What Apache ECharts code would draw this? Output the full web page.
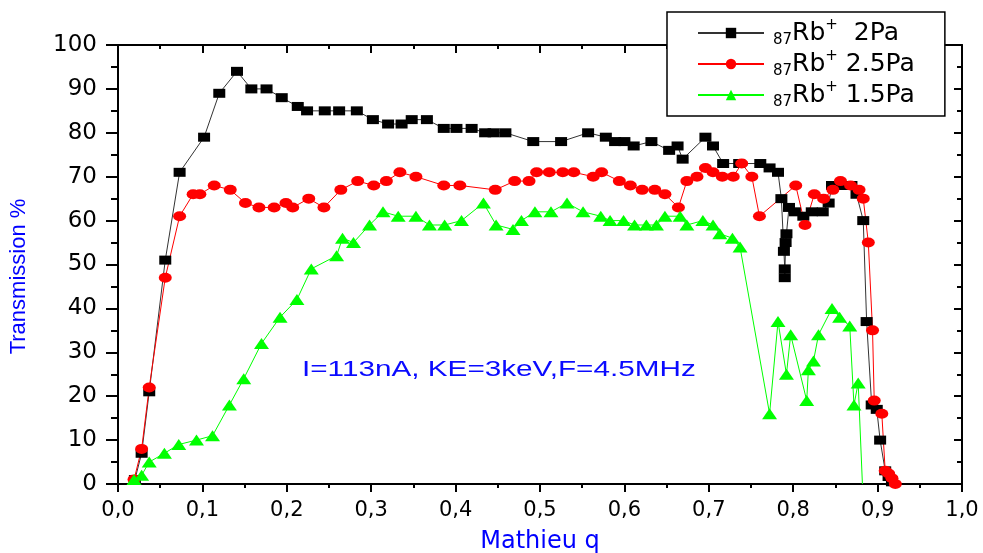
<!DOCTYPE html>
<html>
<head>
<meta charset="utf-8">
<script src="https://cdn.jsdelivr.net/npm/echarts@6/dist/echarts.min.js"></script>
<style>
html,body{margin:0;padding:0;background:#fff;}
#chart{width:983px;height:553px;}
</style>
</head>
<body>
<div id="chart"></div>
<script>
// Series names
const seriesNames = ['87Rb+ 2Pa', '87Rb+ 2.5Pa', '87Rb+ 1.5Pa'];

// 87Rb+ 2Pa (black squares)
const q2 = [0.020,0.028,0.037,0.056,0.073,0.102,0.120,0.141,0.158,0.176,0.194,0.213,0.224,0.245,0.262,0.283,0.302,0.320,0.336,0.348,0.366,0.386,0.401,0.419,0.435,0.445,0.459,0.492,0.525,0.557,0.578,0.589,0.600,0.611,0.632,0.653,0.663,0.669,0.696,0.705,0.717,0.736,0.761,0.772,0.782,0.786,0.789,0.790,0.790,0.791,0.792,0.795,0.802,0.812,0.822,0.835,0.842,0.846,0.859,0.869,0.875,0.883,0.887,0.893,0.899,0.903,0.909,0.913,0.917];
const t2 = [1,7,21,51,71,79,89,94,90,90,88,86,85,85,85,85,83,82,82,83,83,81,81,81,80,80,80,78,78,80,79,78,78,77,78,76,77,74,79,77,73,73,73,72,71,65,53,49,47,55,57,63,62,61,62,62,64,68,68,68,66,60,37,18,17,10,3,1.7,0.5];

// 87Rb+ 2.5Pa (red circles)
const q25 = [0.019,0.028,0.037,0.056,0.073,0.089,0.097,0.114,0.133,0.151,0.167,0.185,0.199,0.207,0.226,0.244,0.264,0.284,0.303,0.318,0.334,0.353,0.386,0.405,0.447,0.470,0.487,0.496,0.511,0.527,0.540,0.563,0.573,0.594,0.607,0.621,0.636,0.648,0.664,0.674,0.686,0.696,0.705,0.716,0.729,0.739,0.751,0.760,0.803,0.814,0.825,0.836,0.847,0.856,0.868,0.878,0.883,0.889,0.894,0.896,0.905,0.909,0.913,0.917,0.921];
const t25 = [1,8,22,47,61,66,66,68,67,64,63,63,64,63,65,63,67,69,68,69,71,70,68,68,67,69,69,71,71,71,71,70,71,69,68,67,67,66,63,69,70,72,71,70,70,73,70,61,68,59,66,65,67,69,68,67,65,55,35,19,16,3,2.4,1.3,0];

// 87Rb+ 1.5Pa (green triangles)
const q15 = [0.019,0.028,0.037,0.055,0.072,0.093,0.112,0.132,0.149,0.170,0.192,0.212,0.229,0.259,0.266,0.279,0.298,0.314,0.332,0.353,0.369,0.387,0.407,0.433,0.448,0.468,0.478,0.494,0.513,0.532,0.551,0.572,0.583,0.599,0.612,0.626,0.638,0.648,0.666,0.674,0.693,0.705,0.713,0.728,0.737,0.772,0.782,0.792,0.797,0.816,0.818,0.824,0.830,0.846,0.855,0.867,0.872,0.877,0.882];
const t15 = [1,2,5,7,9,10,11,18,24,32,38,42,49,52,56,55,59,62,61,61,59,59,60,64,59,58,60,62,62,64,62,61,60,60,59,59,59,61,61,59,60,59,57,56,54,16,37,25,34,19,26,28,34,40,38,36,18,23,0];

// Axis ticks
const xMin = 0, xMax = 1.0, xStep = 0.1;
const yMin = 0, yMax = 100, yStep = 10;

const annotation = 'I=113nA, KE=3keV,F=4.5MHz';

const pairs = (qs, ts) => qs.map((x, i) => [x, ts[i]]);
// the green trace ends on the axis without a visible marker
const greenData = pairs(q15, t15).map((d, i, a) => (i === a.length - 1 ? {value: d, symbol: 'none'} : d));

const chart = echarts.init(document.getElementById('chart'));
const fmtX = v => v.toFixed(1).replace('.', ',');

const richLegend = {
  sub: {fontFamily: 'DejaVu Sans', fontSize: 15, verticalAlign: 'bottom', lineHeight: 30, color: '#000'},
  m: {fontFamily: 'DejaVu Sans', fontSize: 25, lineHeight: 30, color: '#000'},
  sup: {fontFamily: 'DejaVu Sans', fontSize: 15, verticalAlign: 'top', lineHeight: 30, color: '#000'}
};

const mkSeries = (name, data, color, symbol, size, lineColor) => ({
  name, type: 'line', data,
  symbol: symbol,
  symbolSize: size,
  showAllSymbol: true,
  clip: false,
  lineStyle: {color: lineColor, width: 1},
  itemStyle: {color: color},
  emphasis: {disabled: true},
  animation: false
});

chart.setOption({
  backgroundColor: '#fff',
  animation: false,
  grid: {left: 118, right: 21, top: 45, bottom: 69, containLabel: false, outerBoundsMode: 'none'},
  legend: {
    left: 667, top: 12, orient: 'vertical',
    backgroundColor: '#fff', borderColor: '#000', borderWidth: 1.5,
    padding: [6, 30, 6, 30],
    itemWidth: 66, itemHeight: 13, itemGap: 1,
    data: seriesNames,
    formatter: n => {
      const p = n.match(/^87Rb\+ (.*)$/);
      return '{sub|87}{m|Rb}{sup|+}{m| ' + (p[1] === '2Pa' ? ' ' : '') + p[1] + '}';
    },
    textStyle: {rich: richLegend, padding: [0, 0, 0, 4]}
  },
  xAxis: [{
    type: 'value', min: xMin, max: xMax, interval: xStep,
    name: 'Mathieu q', nameLocation: 'middle', nameGap: 46,
    nameTextStyle: {color: '#0000ff', fontFamily: 'DejaVu Sans', fontSize: 24},
    axisLine: {onZero: false, lineStyle: {color: '#000', width: 2}},
    axisTick: {show: true, length: 8, lineStyle: {color: '#000', width: 2}},
    minorTick: {show: true, splitNumber: 2, length: 4, lineStyle: {color: '#000', width: 2}},
    axisLabel: {formatter: fmtX, color: '#000', fontFamily: 'DejaVu Sans', fontSize: 21, margin: 16},
    splitLine: {show: false}
  }, {
    type: 'value', position: 'top', min: xMin, max: xMax, interval: xStep,
    axisLine: {onZero: false, lineStyle: {color: '#000', width: 2}},
    axisTick: {show: true, inside: true, length: 8, lineStyle: {color: '#000', width: 2}},
    minorTick: {show: true, splitNumber: 2, length: 4, lineStyle: {color: '#000', width: 2}},
    axisLabel: {show: false}, splitLine: {show: false}
  }],
  yAxis: [{
    type: 'value', min: yMin, max: yMax, interval: yStep,
    name: 'Transmission %', nameLocation: 'middle', nameGap: 88,
    nameTextStyle: {color: '#0000ff', fontFamily: 'Liberation Sans', fontSize: 22, padding: [0, 24, 0, 0]},
    axisLine: {onZero: false, lineStyle: {color: '#000', width: 2}},
    axisTick: {show: true, length: 12, lineStyle: {color: '#000', width: 2}},
    minorTick: {show: true, splitNumber: 2, length: 7, lineStyle: {color: '#000', width: 2}},
    axisLabel: {color: '#000', fontFamily: 'DejaVu Sans', fontSize: 23, margin: 21},
    splitLine: {show: false}
  }, {
    type: 'value', position: 'right', min: yMin, max: yMax, interval: yStep,
    axisLine: {onZero: false, lineStyle: {color: '#000', width: 2}},
    axisTick: {show: true, inside: true, length: 8, lineStyle: {color: '#000', width: 2}},
    minorTick: {show: true, splitNumber: 2, length: 5, lineStyle: {color: '#000', width: 2}},
    axisLabel: {show: false}, splitLine: {show: false}
  }],
  graphic: [{
    type: 'text', left: 302, top: 359, z: 10,
    scaleX: 1.35,
    style: {text: annotation, font: '22px "Liberation Sans"', fill: '#0a0aff'}
  }],
  series: [
    mkSeries(seriesNames[0], pairs(q2, t2), '#000', 'rect', [12, 9], '#333'),
    mkSeries(seriesNames[1], pairs(q25, t25), '#ff0000', 'circle', [13, 10], '#ff0000'),
    mkSeries(seriesNames[2], greenData, '#00ff00', 'triangle', [15, 11], '#00ff00')
  ]
});
</script>
</body>
</html>
